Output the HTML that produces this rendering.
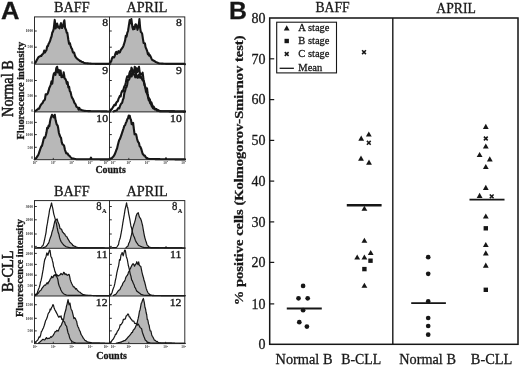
<!DOCTYPE html>
<html><head><meta charset="utf-8"><title>Figure</title>
<style>html,body{margin:0;padding:0;background:#fff;}body{width:520px;height:366px;overflow:hidden;}svg{display:block;}text{font-family:"Liberation Serif",serif;fill:#161616;stroke:#161616;stroke-width:0.28px;}.sans{font-family:"Liberation Sans",sans-serif;font-weight:bold;}.b{font-weight:bold;}</style>
</head><body>
<svg width="520" height="366" viewBox="0 0 520 366">
<defs><filter id="soft" x="0" y="0" width="520" height="366" filterUnits="userSpaceOnUse"><feGaussianBlur stdDeviation="0.35"/></filter></defs>
<rect x="0" y="0" width="520" height="366" fill="#ffffff"/>
<g filter="url(#soft)">
<g id="histTop">
<polygon points="34.73,64.2 34.73,63.16 35.46,61.91 36.19,61.17 36.92,59.69 37.65,58.6 38.39,57.19 39.12,56.8 39.85,56.42 40.58,55.86 41.31,55.88 42.04,54.61 42.77,53.97 43.5,53.26 44.23,50.61 44.96,52.5 45.69,51.07 46.42,50.18 47.15,46.36 47.88,46.28 48.62,43.75 49.35,42.44 50.08,40.92 50.81,38.22 51.54,36.49 52.27,32.63 53.0,31.37 53.73,28.89 54.75,19.93 55.63,28.38 56.36,25.94 57.09,23.6 58.12,27.41 58.85,26.9 59.58,28.36 60.31,25.44 61.04,23.16 62.06,28.04 62.64,26.68 63.23,26.42 63.81,22.19 64.4,20.24 65.13,28.03 66.15,30.26 66.73,32.67 67.32,32.81 68.35,39.76 69.08,43.8 69.81,43.1 70.54,45.62 71.27,47.84 72.0,48.81 72.73,51.8 73.46,52.76 74.19,52.66 74.92,55.6 75.65,56.85 76.39,58.03 77.12,58.69 77.85,59.26 78.58,59.83 79.31,60.19 80.04,61.27 80.77,61.07 81.5,61.62 82.23,62.06 82.96,62.11 83.69,62.72 84.42,62.94 85.15,63.16 85.88,63.22 86.61,63.28 87.34,63.34 88.07,63.4 88.81,63.46 89.54,63.52 90.27,63.58 91.0,63.64 91.73,63.7 92.46,63.76 93.22,63.78 93.99,63.8 94.75,63.82 95.51,63.84 96.27,63.86 97.04,63.87 97.8,63.89 98.56,63.9 99.32,63.9 100.09,63.9 100.85,63.9 101.61,63.9 102.37,63.9 103.14,63.9 103.9,63.9 104.66,63.9 105.42,63.9 106.19,63.9 106.95,63.9 107.71,63.9 108.47,63.9 109.24,63.9 110.0,64.2 110.0,64.2" fill="#b8b8b8" stroke="none"/>
<polyline points="34.73,63.16 35.46,61.91 36.19,61.17 36.92,59.69 37.65,58.6 38.39,57.19 39.12,56.8 39.85,56.42 40.58,55.86 41.31,55.88 42.04,54.61 42.77,53.97 43.5,53.26 44.23,50.61 44.96,52.5 45.69,51.07 46.42,50.18 47.15,46.36 47.88,46.28 48.62,43.75 49.35,42.44 50.08,40.92 50.81,38.22 51.54,36.49 52.27,32.63 53.0,31.37 53.73,28.89 54.75,19.93 55.63,28.38 56.36,25.94 57.09,23.6 58.12,27.41 58.85,26.9 59.58,28.36 60.31,25.44 61.04,23.16 62.06,28.04 62.64,26.68 63.23,26.42 63.81,22.19 64.4,20.24 65.13,28.03 66.15,30.26 66.73,32.67 67.32,32.81 68.35,39.76 69.08,43.8 69.81,43.1 70.54,45.62 71.27,47.84 72.0,48.81 72.73,51.8 73.46,52.76 74.19,52.66 74.92,55.6 75.65,56.85 76.39,58.03 77.12,58.69 77.85,59.26 78.58,59.83 79.31,60.19 80.04,61.27 80.77,61.07 81.5,61.62 82.23,62.06 82.96,62.11 83.69,62.72 84.42,62.94 85.15,63.16 85.88,63.22 86.61,63.28 87.34,63.34 88.07,63.4 88.81,63.46 89.54,63.52 90.27,63.58 91.0,63.64 91.73,63.7 92.46,63.76 93.22,63.78 93.99,63.8 94.75,63.82 95.51,63.84 96.27,63.86 97.04,63.87 97.8,63.89 98.56,63.9 99.32,63.9 100.09,63.9 100.85,63.9 101.61,63.9 102.37,63.9 103.14,63.9 103.9,63.9 104.66,63.9 105.42,63.9 106.19,63.9 106.95,63.9 107.71,63.9 108.47,63.9 109.24,63.9 110.0,64.2" fill="none" stroke="#161616" stroke-width="2.1" stroke-linejoin="round" stroke-linecap="round"/>
<polygon points="109.73,64.2 109.73,63.16 110.46,61.53 111.19,61.15 111.92,58.45 112.65,57.0 113.38,57.35 114.12,57.45 114.85,55.51 115.58,52.99 116.31,51.8 117.04,53.98 117.77,52.79 118.5,51.18 119.23,52.64 119.96,52.06 120.69,50.18 121.42,49.16 122.15,48.17 122.88,47.21 123.61,45.37 124.35,42.99 125.08,40.54 125.81,35.77 126.54,36.63 127.27,32.96 128.0,31.01 128.73,26.43 129.75,19.95 130.63,23.32 131.36,19.06 132.38,26.99 133.12,29.34 133.85,26.91 134.58,29.0 135.31,24.58 135.89,24.25 136.48,25.14 137.5,29.81 138.08,27.34 138.67,25.76 139.4,19.06 140.13,27.56 140.79,31.91 141.45,32.33 142.18,33.86 142.91,38.83 143.64,42.97 144.37,43.2 144.95,43.49 145.54,47.07 146.41,49.19 147.29,51.46 147.92,54.25 148.56,53.08 149.19,55.75 149.92,55.22 150.66,56.66 151.39,58.45 152.12,59.78 152.85,60.29 153.58,60.57 154.31,61.01 155.04,61.46 155.77,62.09 156.5,62.24 157.23,62.67 157.96,62.87 158.69,63.16 159.42,63.46 160.15,63.5 160.88,63.55 161.61,63.59 162.35,63.63 163.08,63.67 163.81,63.72 164.54,63.76 165.27,63.8 166.0,63.83 166.73,63.87 167.46,63.9 168.2,63.9 168.93,63.9 169.66,63.9 170.39,63.9 171.16,63.9 171.93,63.9 172.7,63.9 173.47,63.9 174.23,63.9 175.0,63.9 175.77,63.9 176.54,63.9 177.31,63.9 178.08,63.9 178.85,63.9 179.62,63.9 180.39,63.9 181.16,63.9 181.92,63.9 182.69,63.9 183.46,63.9 184.23,63.9 185.0,64.2 185.0,64.2" fill="#b8b8b8" stroke="none"/>
<polyline points="109.73,63.16 110.46,61.53 111.19,61.15 111.92,58.45 112.65,57.0 113.38,57.35 114.12,57.45 114.85,55.51 115.58,52.99 116.31,51.8 117.04,53.98 117.77,52.79 118.5,51.18 119.23,52.64 119.96,52.06 120.69,50.18 121.42,49.16 122.15,48.17 122.88,47.21 123.61,45.37 124.35,42.99 125.08,40.54 125.81,35.77 126.54,36.63 127.27,32.96 128.0,31.01 128.73,26.43 129.75,19.95 130.63,23.32 131.36,19.06 132.38,26.99 133.12,29.34 133.85,26.91 134.58,29.0 135.31,24.58 135.89,24.25 136.48,25.14 137.5,29.81 138.08,27.34 138.67,25.76 139.4,19.06 140.13,27.56 140.79,31.91 141.45,32.33 142.18,33.86 142.91,38.83 143.64,42.97 144.37,43.2 144.95,43.49 145.54,47.07 146.41,49.19 147.29,51.46 147.92,54.25 148.56,53.08 149.19,55.75 149.92,55.22 150.66,56.66 151.39,58.45 152.12,59.78 152.85,60.29 153.58,60.57 154.31,61.01 155.04,61.46 155.77,62.09 156.5,62.24 157.23,62.67 157.96,62.87 158.69,63.16 159.42,63.46 160.15,63.5 160.88,63.55 161.61,63.59 162.35,63.63 163.08,63.67 163.81,63.72 164.54,63.76 165.27,63.8 166.0,63.83 166.73,63.87 167.46,63.9 168.2,63.9 168.93,63.9 169.66,63.9 170.39,63.9 171.16,63.9 171.93,63.9 172.7,63.9 173.47,63.9 174.23,63.9 175.0,63.9 175.77,63.9 176.54,63.9 177.31,63.9 178.08,63.9 178.85,63.9 179.62,63.9 180.39,63.9 181.16,63.9 181.92,63.9 182.69,63.9 183.46,63.9 184.23,63.9 185.0,64.2" fill="none" stroke="#161616" stroke-width="2.1" stroke-linejoin="round" stroke-linecap="round"/>
<polygon points="34.73,111.9 34.73,111.46 35.46,110.87 36.19,110.5 36.92,109.69 37.65,109.35 38.39,108.54 39.12,108.75 39.85,106.83 40.58,105.31 41.31,104.23 42.04,103.41 42.77,102.66 43.5,100.76 44.23,100.27 44.96,99.44 45.69,94.21 46.42,94.33 47.15,94.33 47.88,92.9 48.62,90.66 49.35,87.69 50.08,86.51 50.81,84.35 51.54,81.35 52.27,83.63 53.0,77.51 53.73,74.04 54.46,72.77 55.48,74.89 56.22,68.37 57.09,66.75 57.82,72.47 58.85,69.95 59.72,74.95 60.6,70.58 61.48,77.21 62.5,75.67 63.09,77.06 63.67,72.32 64.69,78.5 65.42,78.89 66.15,80.63 66.89,83.84 67.62,82.2 68.35,87.41 69.08,86.72 69.81,91.12 70.54,91.96 71.27,95.17 72.0,97.71 72.88,98.84 73.75,100.93 74.38,102.83 75.02,103.43 75.65,104.5 76.38,106.68 77.12,107.23 77.85,107.41 78.58,109.65 79.31,107.96 80.04,109.59 80.77,109.64 81.5,109.98 82.23,110.44 82.96,110.48 83.69,110.63 84.42,110.87 85.15,110.91 85.88,110.95 86.61,110.99 87.35,111.04 88.08,111.08 88.81,111.12 89.54,111.16 90.3,111.17 91.06,111.18 91.81,111.19 92.57,111.2 93.33,111.22 94.09,111.23 94.84,111.24 95.6,111.25 96.36,111.26 97.12,111.27 97.88,111.28 98.63,111.29 99.39,111.3 100.15,111.32 100.91,111.33 101.66,111.34 102.42,111.35 103.18,111.36 103.94,111.37 104.7,111.38 105.45,111.39 106.21,111.4 106.97,111.42 107.73,111.43 108.48,111.44 109.24,111.45 110.0,111.46 110.0,111.9" fill="#b8b8b8" stroke="none"/>
<polyline points="34.73,111.46 35.46,110.87 36.19,110.5 36.92,109.69 37.65,109.35 38.39,108.54 39.12,108.75 39.85,106.83 40.58,105.31 41.31,104.23 42.04,103.41 42.77,102.66 43.5,100.76 44.23,100.27 44.96,99.44 45.69,94.21 46.42,94.33 47.15,94.33 47.88,92.9 48.62,90.66 49.35,87.69 50.08,86.51 50.81,84.35 51.54,81.35 52.27,83.63 53.0,77.51 53.73,74.04 54.46,72.77 55.48,74.89 56.22,68.37 57.09,66.75 57.82,72.47 58.85,69.95 59.72,74.95 60.6,70.58 61.48,77.21 62.5,75.67 63.09,77.06 63.67,72.32 64.69,78.5 65.42,78.89 66.15,80.63 66.89,83.84 67.62,82.2 68.35,87.41 69.08,86.72 69.81,91.12 70.54,91.96 71.27,95.17 72.0,97.71 72.88,98.84 73.75,100.93 74.38,102.83 75.02,103.43 75.65,104.5 76.38,106.68 77.12,107.23 77.85,107.41 78.58,109.65 79.31,107.96 80.04,109.59 80.77,109.64 81.5,109.98 82.23,110.44 82.96,110.48 83.69,110.63 84.42,110.87 85.15,110.91 85.88,110.95 86.61,110.99 87.35,111.04 88.08,111.08 88.81,111.12 89.54,111.16 90.3,111.17 91.06,111.18 91.81,111.19 92.57,111.2 93.33,111.22 94.09,111.23 94.84,111.24 95.6,111.25 96.36,111.26 97.12,111.27 97.88,111.28 98.63,111.29 99.39,111.3 100.15,111.32 100.91,111.33 101.66,111.34 102.42,111.35 103.18,111.36 103.94,111.37 104.7,111.38 105.45,111.39 106.21,111.4 106.97,111.42 107.73,111.43 108.48,111.44 109.24,111.45 110.0,111.46" fill="none" stroke="#161616" stroke-width="2.1" stroke-linejoin="round" stroke-linecap="round"/>
<polygon points="113.38,111.9 113.38,111.46 114.11,111.2 114.84,110.94 115.58,110.69 116.31,110.43 117.04,110.15 117.77,108.59 118.5,107.97 119.23,108.36 119.96,106.09 120.69,104.47 121.42,103.29 122.15,102.8 122.88,99.69 123.61,98.16 124.35,93.0 125.08,90.9 125.81,87.66 126.54,86.92 127.27,84.18 128.0,79.46 128.73,79.82 129.46,78.72 130.19,75.07 130.92,72.94 131.65,76.43 132.38,73.07 133.11,72.94 133.85,74.67 134.58,74.62 135.31,77.36 136.04,73.05 136.77,76.03 137.5,77.71 138.23,77.46 138.96,74.48 139.59,73.9 140.23,77.72 140.86,76.61 141.59,77.85 142.32,79.72 143.06,80.51 143.79,81.68 144.52,85.15 145.25,87.24 145.98,91.67 146.71,92.91 147.44,94.57 148.17,97.9 148.85,100.35 149.54,101.12 150.22,103.1 150.95,103.84 151.68,105.98 152.41,106.87 153.07,108.23 153.72,107.52 154.38,109.13 155.04,109.03 155.77,109.2 156.5,109.16 157.23,110.68 157.96,110.57 158.69,110.86 159.42,111.16 160.17,111.17 160.92,111.19 161.68,111.2 162.43,111.21 163.18,111.23 163.93,111.24 164.69,111.25 165.44,111.27 166.19,111.28 166.94,111.29 167.7,111.31 168.45,111.32 169.2,111.33 169.95,111.35 170.71,111.36 171.46,111.37 172.21,111.38 172.96,111.4 173.71,111.41 174.47,111.42 175.22,111.44 175.97,111.45 176.72,111.46 177.48,111.48 178.23,111.49 178.98,111.5 179.73,111.52 180.49,111.53 181.24,111.54 181.99,111.56 182.74,111.57 183.5,111.58 184.25,111.6 185.0,111.61 185.0,111.9" fill="#b8b8b8" stroke="none"/>
<polyline points="113.38,111.46 114.11,111.2 114.84,110.94 115.58,110.69 116.31,110.43 117.04,110.15 117.77,108.59 118.5,107.97 119.23,108.36 119.96,106.09 120.69,104.47 121.42,103.29 122.15,102.8 122.88,99.69 123.61,98.16 124.35,93.0 125.08,90.9 125.81,87.66 126.54,86.92 127.27,84.18 128.0,79.46 128.73,79.82 129.46,78.72 130.19,75.07 130.92,72.94 131.65,76.43 132.38,73.07 133.11,72.94 133.85,74.67 134.58,74.62 135.31,77.36 136.04,73.05 136.77,76.03 137.5,77.71 138.23,77.46 138.96,74.48 139.59,73.9 140.23,77.72 140.86,76.61 141.59,77.85 142.32,79.72 143.06,80.51 143.79,81.68 144.52,85.15 145.25,87.24 145.98,91.67 146.71,92.91 147.44,94.57 148.17,97.9 148.85,100.35 149.54,101.12 150.22,103.1 150.95,103.84 151.68,105.98 152.41,106.87 153.07,108.23 153.72,107.52 154.38,109.13 155.04,109.03 155.77,109.2 156.5,109.16 157.23,110.68 157.96,110.57 158.69,110.86 159.42,111.16 160.17,111.17 160.92,111.19 161.68,111.2 162.43,111.21 163.18,111.23 163.93,111.24 164.69,111.25 165.44,111.27 166.19,111.28 166.94,111.29 167.7,111.31 168.45,111.32 169.2,111.33 169.95,111.35 170.71,111.36 171.46,111.37 172.21,111.38 172.96,111.4 173.71,111.41 174.47,111.42 175.22,111.44 175.97,111.45 176.72,111.46 177.48,111.48 178.23,111.49 178.98,111.5 179.73,111.52 180.49,111.53 181.24,111.54 181.99,111.56 182.74,111.57 183.5,111.58 184.25,111.6 185.0,111.61" fill="none" stroke="#161616" stroke-width="2.1" stroke-linejoin="round" stroke-linecap="round"/>
<polyline points="109.73,111.46 110.46,110.62 111.19,109.25 111.92,108.95 112.65,107.73 113.38,106.72 114.12,105.19 114.85,104.61 115.58,105.1 116.31,102.6 117.04,101.78 117.77,101.37 118.5,98.91 119.23,97.33 119.96,95.77 120.69,96.28 121.42,92.63 122.15,90.96 122.89,91.45 123.62,88.78 124.35,86.36 125.08,85.65 125.81,82.53 126.54,78.72 127.27,76.29 128.0,76.81 128.73,77.09 129.46,73.16 130.19,71.15 130.92,71.53 131.5,67.68 132.09,69.07 133.12,73.45 134.14,72.39 134.72,66.75 135.31,67.21 136.19,72.36 136.84,68.43 137.5,71.92 138.23,68.77 138.96,66.75 139.69,72.18 140.42,74.12 141.15,73.98 141.88,74.67 142.62,72.68 143.49,79.2 144.15,82.22 144.81,85.47 145.54,87.84 146.27,89.32 147.0,88.43 147.73,93.94 148.46,97.62 149.19,98.51 149.92,99.63 150.66,103.46 151.39,102.43 152.12,104.67 152.85,107.35 153.58,106.49 154.31,107.91 155.04,109.3 155.77,108.89 156.5,109.79 157.23,110.36 157.96,109.93 158.69,110.57 159.42,110.87 160.15,111.16 160.9,111.17 161.66,111.19 162.41,111.2 163.16,111.21 163.92,111.23 164.67,111.24 165.42,111.26 166.17,111.27 166.93,111.28 167.68,111.3 168.43,111.31 169.19,111.32 169.94,111.34 170.69,111.35 171.45,111.36 172.2,111.38 172.95,111.39 173.7,111.41 174.46,111.42 175.21,111.43 175.96,111.45 176.72,111.46 177.47,111.47 178.22,111.49 178.98,111.5 179.73,111.51 180.48,111.53 181.23,111.54 181.99,111.56 182.74,111.57 183.49,111.58 184.25,111.6 185.0,111.61" fill="none" stroke="#161616" stroke-width="2.1" stroke-linejoin="round" stroke-linecap="round"/>
<polygon points="34.73,159.7 34.73,159.26 35.46,158.75 36.19,158.23 36.92,156.96 37.65,155.96 38.38,154.78 39.11,152.58 39.85,150.47 40.58,148.29 41.31,146.35 42.04,145.81 42.77,142.87 43.5,139.5 44.23,137.26 44.96,137.77 45.69,135.75 46.42,132.82 47.15,127.9 47.88,128.47 48.62,125.55 49.35,126.07 50.08,121.13 50.66,118.48 51.25,116.81 51.98,114.74 52.71,116.06 53.73,117.39 54.75,114.74 55.63,120.35 56.65,124.33 57.68,125.71 58.27,128.52 58.85,132.73 59.58,135.02 60.31,136.72 61.04,137.83 61.77,142.44 62.5,144.45 63.23,144.47 64.11,145.8 64.99,150.08 65.62,151.55 66.26,153.4 66.89,153.35 67.62,153.46 68.35,155.22 69.08,155.53 69.81,156.18 70.54,157.1 71.27,157.9 72.0,158.23 72.73,158.4 73.46,158.57 74.19,158.75 74.93,158.92 75.66,159.09 76.39,159.26 77.12,159.26 77.85,159.26 78.58,159.26 79.31,159.26 80.04,159.26 80.77,159.26 81.5,159.26 82.23,159.26 82.96,159.26 83.7,159.26 84.43,159.26 85.16,159.26 85.89,159.26 86.62,159.26 87.35,159.26 88.08,159.26 88.81,159.26 89.54,159.26 90.27,159.26 91.0,157.67 91.73,159.26 92.49,159.27 93.25,159.27 94.01,159.28 94.78,159.28 95.54,159.29 96.3,159.3 97.06,159.3 97.82,159.31 98.58,159.32 99.34,159.32 100.1,159.33 100.87,159.33 101.63,159.34 102.39,159.35 103.15,159.35 103.91,159.36 104.67,159.37 105.43,159.37 106.19,159.38 106.95,159.38 107.72,159.39 108.48,159.4 109.24,159.4 110.0,159.41 110.0,159.7" fill="#b8b8b8" stroke="none"/>
<polyline points="34.73,159.26 35.46,158.75 36.19,158.23 36.92,156.96 37.65,155.96 38.38,154.78 39.11,152.58 39.85,150.47 40.58,148.29 41.31,146.35 42.04,145.81 42.77,142.87 43.5,139.5 44.23,137.26 44.96,137.77 45.69,135.75 46.42,132.82 47.15,127.9 47.88,128.47 48.62,125.55 49.35,126.07 50.08,121.13 50.66,118.48 51.25,116.81 51.98,114.74 52.71,116.06 53.73,117.39 54.75,114.74 55.63,120.35 56.65,124.33 57.68,125.71 58.27,128.52 58.85,132.73 59.58,135.02 60.31,136.72 61.04,137.83 61.77,142.44 62.5,144.45 63.23,144.47 64.11,145.8 64.99,150.08 65.62,151.55 66.26,153.4 66.89,153.35 67.62,153.46 68.35,155.22 69.08,155.53 69.81,156.18 70.54,157.1 71.27,157.9 72.0,158.23 72.73,158.4 73.46,158.57 74.19,158.75 74.93,158.92 75.66,159.09 76.39,159.26 77.12,159.26 77.85,159.26 78.58,159.26 79.31,159.26 80.04,159.26 80.77,159.26 81.5,159.26 82.23,159.26 82.96,159.26 83.7,159.26 84.43,159.26 85.16,159.26 85.89,159.26 86.62,159.26 87.35,159.26 88.08,159.26 88.81,159.26 89.54,159.26 90.27,159.26 91.0,157.67 91.73,159.26 92.49,159.27 93.25,159.27 94.01,159.28 94.78,159.28 95.54,159.29 96.3,159.3 97.06,159.3 97.82,159.31 98.58,159.32 99.34,159.32 100.1,159.33 100.87,159.33 101.63,159.34 102.39,159.35 103.15,159.35 103.91,159.36 104.67,159.37 105.43,159.37 106.19,159.38 106.95,159.38 107.72,159.39 108.48,159.4 109.24,159.4 110.0,159.41" fill="none" stroke="#161616" stroke-width="2.1" stroke-linejoin="round" stroke-linecap="round"/>
<polygon points="109.73,159.7 109.73,158.97 110.46,158.72 111.19,158.48 111.92,158.23 112.65,157.2 113.39,156.53 114.12,155.39 114.85,154.06 115.58,152.05 116.31,150.04 117.04,148.53 117.77,145.32 118.5,142.41 119.23,140.05 119.96,138.91 120.69,136.89 121.42,134.99 122.15,132.55 122.88,130.46 123.61,128.29 124.35,125.81 125.08,125.23 125.81,123.04 126.54,121.62 127.27,119.2 128.0,118.38 128.73,115.47 129.75,115.66 130.33,118.72 130.92,119.37 131.65,123.99 132.38,124.45 133.12,122.93 133.85,128.93 134.58,134.32 135.31,133.79 136.19,134.61 137.06,138.73 137.69,141.06 138.33,142.23 138.96,142.91 139.69,146.38 140.42,146.8 141.15,148.67 141.89,151.1 142.62,153.7 143.35,154.54 144.08,155.56 144.81,155.52 145.54,156.89 146.27,157.91 147.0,157.97 147.73,158.38 148.46,158.68 149.19,158.97 149.96,158.98 150.72,159.0 151.49,159.01 152.25,159.03 153.02,159.04 153.78,159.05 154.55,159.07 155.32,159.08 156.08,159.09 156.85,159.11 157.61,159.12 158.38,159.14 159.14,159.15 159.91,159.16 160.68,159.18 161.44,159.19 162.21,159.2 162.97,159.22 163.74,159.23 164.5,159.25 165.27,159.26 166.0,158.25 166.73,159.26 167.49,159.27 168.25,159.27 169.01,159.28 169.77,159.28 170.54,159.29 171.3,159.3 172.06,159.3 172.82,159.31 173.58,159.32 174.34,159.32 175.1,159.33 175.87,159.33 176.63,159.34 177.39,159.35 178.15,159.35 178.91,159.36 179.67,159.37 180.43,159.37 181.19,159.38 181.95,159.38 182.72,159.39 183.48,159.4 184.24,159.4 185.0,159.41 185.0,159.7" fill="#b8b8b8" stroke="none"/>
<polyline points="109.73,158.97 110.46,158.72 111.19,158.48 111.92,158.23 112.65,157.2 113.39,156.53 114.12,155.39 114.85,154.06 115.58,152.05 116.31,150.04 117.04,148.53 117.77,145.32 118.5,142.41 119.23,140.05 119.96,138.91 120.69,136.89 121.42,134.99 122.15,132.55 122.88,130.46 123.61,128.29 124.35,125.81 125.08,125.23 125.81,123.04 126.54,121.62 127.27,119.2 128.0,118.38 128.73,115.47 129.75,115.66 130.33,118.72 130.92,119.37 131.65,123.99 132.38,124.45 133.12,122.93 133.85,128.93 134.58,134.32 135.31,133.79 136.19,134.61 137.06,138.73 137.69,141.06 138.33,142.23 138.96,142.91 139.69,146.38 140.42,146.8 141.15,148.67 141.89,151.1 142.62,153.7 143.35,154.54 144.08,155.56 144.81,155.52 145.54,156.89 146.27,157.91 147.0,157.97 147.73,158.38 148.46,158.68 149.19,158.97 149.96,158.98 150.72,159.0 151.49,159.01 152.25,159.03 153.02,159.04 153.78,159.05 154.55,159.07 155.32,159.08 156.08,159.09 156.85,159.11 157.61,159.12 158.38,159.14 159.14,159.15 159.91,159.16 160.68,159.18 161.44,159.19 162.21,159.2 162.97,159.22 163.74,159.23 164.5,159.25 165.27,159.26 166.0,158.25 166.73,159.26 167.49,159.27 168.25,159.27 169.01,159.28 169.77,159.28 170.54,159.29 171.3,159.3 172.06,159.3 172.82,159.31 173.58,159.32 174.34,159.32 175.1,159.33 175.87,159.33 176.63,159.34 177.39,159.35 178.15,159.35 178.91,159.36 179.67,159.37 180.43,159.37 181.19,159.38 181.95,159.38 182.72,159.39 183.48,159.4 184.24,159.4 185.0,159.41" fill="none" stroke="#161616" stroke-width="2.1" stroke-linejoin="round" stroke-linecap="round"/>
</g>
<g id="histBot">
<polygon points="42.77,248.3 42.77,247.85 43.5,247.59 44.23,247.33 44.96,247.07 45.69,246.81 46.42,245.98 47.15,245.12 47.88,243.81 48.51,243.41 49.15,241.44 49.78,239.34 50.52,237.2 51.25,235.57 51.98,232.09 52.71,229.98 53.44,227.52 54.17,223.78 54.9,220.9 55.63,220.13 56.36,219.65 57.09,219.0 58.12,222.56 59.14,224.53 60.02,228.5 60.75,229.02 61.48,229.04 62.5,231.97 63.23,232.53 63.96,233.62 64.69,233.89 65.42,235.52 66.16,236.41 66.89,236.82 67.62,238.41 68.35,239.74 68.98,240.56 69.62,241.87 70.25,242.45 70.93,243.08 71.61,243.76 72.29,244.39 72.95,245.59 73.61,245.62 74.26,246.21 74.92,246.29 75.65,246.63 76.38,246.97 77.12,247.26 77.85,247.56 78.58,247.61 79.31,247.66 80.04,247.7 80.77,247.75 81.5,247.8 82.23,247.85 82.98,247.85 83.73,247.86 84.48,247.86 85.23,247.87 85.98,247.87 86.73,247.87 87.48,247.88 88.23,247.88 88.98,247.89 89.74,247.89 90.49,247.89 91.24,247.9 91.99,247.9 92.74,247.91 93.49,247.91 94.24,247.91 94.99,247.92 95.74,247.92 96.49,247.93 97.24,247.93 97.99,247.94 98.74,247.94 99.49,247.94 100.24,247.95 100.99,247.95 101.74,247.96 102.49,247.96 103.25,247.96 104.0,247.97 104.75,247.97 105.5,247.98 106.25,247.98 107.0,247.98 107.75,247.99 108.5,247.99 109.25,248.0 110.0,248.0 110.0,248.3" fill="#b8b8b8" stroke="none"/>
<polyline points="42.77,247.85 43.5,247.59 44.23,247.33 44.96,247.07 45.69,246.81 46.42,245.98 47.15,245.12 47.88,243.81 48.51,243.41 49.15,241.44 49.78,239.34 50.52,237.2 51.25,235.57 51.98,232.09 52.71,229.98 53.44,227.52 54.17,223.78 54.9,220.9 55.63,220.13 56.36,219.65 57.09,219.0 58.12,222.56 59.14,224.53 60.02,228.5 60.75,229.02 61.48,229.04 62.5,231.97 63.23,232.53 63.96,233.62 64.69,233.89 65.42,235.52 66.16,236.41 66.89,236.82 67.62,238.41 68.35,239.74 68.98,240.56 69.62,241.87 70.25,242.45 70.93,243.08 71.61,243.76 72.29,244.39 72.95,245.59 73.61,245.62 74.26,246.21 74.92,246.29 75.65,246.63 76.38,246.97 77.12,247.26 77.85,247.56 78.58,247.61 79.31,247.66 80.04,247.7 80.77,247.75 81.5,247.8 82.23,247.85 82.98,247.85 83.73,247.86 84.48,247.86 85.23,247.87 85.98,247.87 86.73,247.87 87.48,247.88 88.23,247.88 88.98,247.89 89.74,247.89 90.49,247.89 91.24,247.9 91.99,247.9 92.74,247.91 93.49,247.91 94.24,247.91 94.99,247.92 95.74,247.92 96.49,247.93 97.24,247.93 97.99,247.94 98.74,247.94 99.49,247.94 100.24,247.95 100.99,247.95 101.74,247.96 102.49,247.96 103.25,247.96 104.0,247.97 104.75,247.97 105.5,247.98 106.25,247.98 107.0,247.98 107.75,247.99 108.5,247.99 109.25,248.0 110.0,248.0" fill="none" stroke="#161616" stroke-width="1.2" stroke-linejoin="round" stroke-linecap="round"/>
<polyline points="34.73,247.85 35.46,247.82 36.19,247.79 36.92,247.75 37.65,247.72 38.39,247.69 39.12,247.66 39.85,247.62 40.58,247.59 41.31,247.56 42.19,246.02 43.06,245.42 43.79,243.11 44.52,239.76 45.25,236.38 45.98,232.87 46.72,226.9 47.45,223.17 48.18,218.35 48.91,214.61 49.64,209.69 50.37,207.44 50.95,205.33 51.54,202.97 52.12,205.84 52.71,208.08 53.73,213.85 54.75,217.34 55.34,219.6 55.92,221.92 56.51,224.0 57.09,227.46 57.67,230.1 58.26,232.83 58.92,234.33 59.58,237.63 60.31,239.74 61.04,241.57 61.77,242.47 62.5,243.57 63.23,244.48 63.96,245.35 64.69,245.79 65.42,246.23 66.15,246.81 66.88,246.98 67.61,247.16 68.34,247.33 69.08,247.5 69.81,247.68 70.54,247.85 71.28,247.85 72.03,247.86 72.77,247.86 73.52,247.86 74.26,247.86 75.01,247.87 75.75,247.87 76.5,247.87 77.24,247.88 77.99,247.88 78.73,247.88 79.47,247.88 80.22,247.89 80.96,247.89 81.71,247.89 82.45,247.9 83.2,247.9 83.94,247.9 84.69,247.9 85.43,247.91 86.18,247.91 86.92,247.91 87.66,247.92 88.41,247.92 89.15,247.92 89.9,247.92 90.64,247.93 91.39,247.93 92.13,247.93 92.88,247.93 93.62,247.94 94.36,247.94 95.11,247.94 95.85,247.95 96.6,247.95 97.34,247.95 98.09,247.95 98.83,247.96 99.58,247.96 100.32,247.96 101.07,247.97 101.81,247.97 102.55,247.97 103.3,247.97 104.04,247.98 104.79,247.98 105.53,247.98 106.28,247.99 107.02,247.99 107.77,247.99 108.51,247.99 109.26,248.0 110.0,248.0" fill="none" stroke="#161616" stroke-width="1.2" stroke-linejoin="round" stroke-linecap="round"/>
<polygon points="125.81,248.3 125.81,247.85 126.54,247.26 127.27,246.52 128.0,246.05 128.73,243.28 129.46,242.2 130.19,239.77 130.92,236.81 131.5,234.68 132.09,231.99 132.68,228.33 133.26,226.67 133.92,224.26 134.58,222.45 135.31,219.88 136.04,216.34 137.06,213.78 137.64,213.23 138.23,212.6 139.25,216.63 139.83,217.74 140.42,218.31 141.45,221.07 142.03,223.47 142.62,225.77 143.49,230.9 144.07,234.11 144.66,237.04 145.25,239.06 145.83,240.97 146.42,242.56 147.0,244.88 147.88,245.61 148.75,246.81 149.41,247.07 150.07,247.33 150.73,247.59 151.39,247.85 152.12,247.85 152.85,247.85 153.58,247.85 154.31,247.85 155.04,247.85 155.77,247.85 156.5,247.85 157.23,247.85 157.96,247.85 158.7,247.85 159.43,247.85 160.16,247.85 160.89,247.85 161.62,247.85 162.35,247.85 163.08,247.85 163.81,247.85 164.54,247.85 165.27,247.85 166.0,246.81 166.73,247.85 167.49,247.86 168.25,247.86 169.01,247.87 169.77,247.88 170.54,247.88 171.3,247.89 172.06,247.89 172.82,247.9 173.58,247.91 174.34,247.91 175.1,247.92 175.87,247.93 176.63,247.93 177.39,247.94 178.15,247.94 178.91,247.95 179.67,247.96 180.43,247.96 181.19,247.97 181.95,247.97 182.72,247.98 183.48,247.99 184.24,247.99 185.0,248.0 185.0,248.3" fill="#b8b8b8" stroke="none"/>
<polyline points="125.81,247.85 126.54,247.26 127.27,246.52 128.0,246.05 128.73,243.28 129.46,242.2 130.19,239.77 130.92,236.81 131.5,234.68 132.09,231.99 132.68,228.33 133.26,226.67 133.92,224.26 134.58,222.45 135.31,219.88 136.04,216.34 137.06,213.78 137.64,213.23 138.23,212.6 139.25,216.63 139.83,217.74 140.42,218.31 141.45,221.07 142.03,223.47 142.62,225.77 143.49,230.9 144.07,234.11 144.66,237.04 145.25,239.06 145.83,240.97 146.42,242.56 147.0,244.88 147.88,245.61 148.75,246.81 149.41,247.07 150.07,247.33 150.73,247.59 151.39,247.85 152.12,247.85 152.85,247.85 153.58,247.85 154.31,247.85 155.04,247.85 155.77,247.85 156.5,247.85 157.23,247.85 157.96,247.85 158.7,247.85 159.43,247.85 160.16,247.85 160.89,247.85 161.62,247.85 162.35,247.85 163.08,247.85 163.81,247.85 164.54,247.85 165.27,247.85 166.0,246.81 166.73,247.85 167.49,247.86 168.25,247.86 169.01,247.87 169.77,247.88 170.54,247.88 171.3,247.89 172.06,247.89 172.82,247.9 173.58,247.91 174.34,247.91 175.1,247.92 175.87,247.93 176.63,247.93 177.39,247.94 178.15,247.94 178.91,247.95 179.67,247.96 180.43,247.96 181.19,247.97 181.95,247.97 182.72,247.98 183.48,247.99 184.24,247.99 185.0,248.0" fill="none" stroke="#161616" stroke-width="1.2" stroke-linejoin="round" stroke-linecap="round"/>
<polyline points="109.73,247.85 110.46,247.82 111.19,247.79 111.92,247.75 112.65,247.72 113.39,247.69 114.12,247.66 114.85,247.62 115.58,247.59 116.31,247.56 117.04,246.81 117.77,245.61 118.5,244.73 119.13,241.1 119.77,239.25 120.4,237.21 121.28,232.36 122.15,227.49 122.89,222.57 123.62,218.31 124.35,214.15 125.08,209.32 125.81,206.51 126.54,202.9 127.12,206.14 127.71,207.71 128.73,213.85 129.75,218.95 130.33,222.51 130.92,225.95 131.5,227.69 132.09,230.48 132.82,233.84 133.55,235.68 134.43,237.46 135.31,240.18 136.04,241.63 136.77,242.89 137.5,243.73 138.23,245.06 138.96,245.61 139.69,245.74 140.42,246.4 141.15,246.51 141.88,246.85 142.62,247.08 143.35,247.32 144.08,247.56 144.82,247.57 145.57,247.58 146.31,247.58 147.06,247.59 147.8,247.6 148.54,247.61 149.29,247.62 150.03,247.62 150.78,247.63 151.52,247.64 152.26,247.65 153.01,247.66 153.75,247.66 154.5,247.67 155.24,247.68 155.98,247.69 156.73,247.7 157.47,247.7 158.22,247.71 158.96,247.72 159.7,247.73 160.45,247.74 161.19,247.74 161.94,247.75 162.68,247.76 163.42,247.77 164.17,247.78 164.91,247.78 165.66,247.79 166.4,247.8 167.14,247.81 167.89,247.82 168.63,247.82 169.38,247.83 170.12,247.84 170.86,247.85 171.61,247.86 172.35,247.86 173.1,247.87 173.84,247.88 174.58,247.89 175.33,247.9 176.07,247.9 176.82,247.91 177.56,247.92 178.3,247.93 179.05,247.94 179.79,247.94 180.54,247.95 181.28,247.96 182.02,247.97 182.77,247.98 183.51,247.98 184.26,247.99 185.0,248.0" fill="none" stroke="#161616" stroke-width="1.2" stroke-linejoin="round" stroke-linecap="round"/>
<polygon points="35.46,296.0 35.46,295.56 36.19,294.93 36.92,294.62 37.65,293.49 38.38,293.13 39.11,291.96 39.84,290.94 40.58,290.57 41.31,289.58 41.97,288.42 42.62,287.17 43.28,287.01 43.94,285.65 44.77,285.1 45.59,285.08 46.42,283.72 47.15,282.64 47.89,283.89 48.62,281.97 49.49,281.02 50.37,278.84 51.0,278.25 51.64,276.26 52.27,277.33 53.0,277.58 53.73,275.39 54.46,275.6 55.19,274.32 55.92,275.99 56.65,274.44 57.38,275.27 58.12,275.97 58.85,275.6 59.58,274.98 60.31,274.6 61.04,273.39 61.77,274.16 62.5,274.68 63.09,273.85 63.67,272.29 64.33,272.75 64.99,274.63 65.72,273.83 66.45,274.35 67.03,275.19 67.62,275.28 68.35,274.58 69.08,274.36 69.66,276.47 70.25,279.65 70.98,281.79 71.71,283.57 72.58,285.25 73.46,286.84 74.19,286.78 74.92,287.89 75.65,289.14 76.38,288.54 77.12,289.88 77.85,290.86 78.58,291.38 79.31,291.96 80.04,292.28 80.77,292.97 81.5,293.43 82.23,294.15 82.96,294.52 83.69,294.7 84.42,294.88 85.16,295.05 85.89,295.23 86.62,295.41 87.37,295.42 88.13,295.43 88.88,295.44 89.64,295.45 90.39,295.46 91.15,295.47 91.9,295.48 92.65,295.48 93.41,295.49 94.16,295.5 94.92,295.51 95.67,295.52 96.42,295.53 97.18,295.54 97.93,295.55 98.69,295.56 99.44,295.57 100.2,295.58 100.95,295.59 101.7,295.6 102.46,295.61 103.21,295.62 103.97,295.63 104.72,295.63 105.47,295.64 106.23,295.65 106.98,295.66 107.74,295.67 108.49,295.68 109.25,295.69 110.0,295.7 110.0,296.0" fill="#b8b8b8" stroke="none"/>
<polyline points="35.46,295.56 36.19,294.93 36.92,294.62 37.65,293.49 38.38,293.13 39.11,291.96 39.84,290.94 40.58,290.57 41.31,289.58 41.97,288.42 42.62,287.17 43.28,287.01 43.94,285.65 44.77,285.1 45.59,285.08 46.42,283.72 47.15,282.64 47.89,283.89 48.62,281.97 49.49,281.02 50.37,278.84 51.0,278.25 51.64,276.26 52.27,277.33 53.0,277.58 53.73,275.39 54.46,275.6 55.19,274.32 55.92,275.99 56.65,274.44 57.38,275.27 58.12,275.97 58.85,275.6 59.58,274.98 60.31,274.6 61.04,273.39 61.77,274.16 62.5,274.68 63.09,273.85 63.67,272.29 64.33,272.75 64.99,274.63 65.72,273.83 66.45,274.35 67.03,275.19 67.62,275.28 68.35,274.58 69.08,274.36 69.66,276.47 70.25,279.65 70.98,281.79 71.71,283.57 72.58,285.25 73.46,286.84 74.19,286.78 74.92,287.89 75.65,289.14 76.38,288.54 77.12,289.88 77.85,290.86 78.58,291.38 79.31,291.96 80.04,292.28 80.77,292.97 81.5,293.43 82.23,294.15 82.96,294.52 83.69,294.7 84.42,294.88 85.16,295.05 85.89,295.23 86.62,295.41 87.37,295.42 88.13,295.43 88.88,295.44 89.64,295.45 90.39,295.46 91.15,295.47 91.9,295.48 92.65,295.48 93.41,295.49 94.16,295.5 94.92,295.51 95.67,295.52 96.42,295.53 97.18,295.54 97.93,295.55 98.69,295.56 99.44,295.57 100.2,295.58 100.95,295.59 101.7,295.6 102.46,295.61 103.21,295.62 103.97,295.63 104.72,295.63 105.47,295.64 106.23,295.65 106.98,295.66 107.74,295.67 108.49,295.68 109.25,295.69 110.0,295.7" fill="none" stroke="#161616" stroke-width="1.2" stroke-linejoin="round" stroke-linecap="round"/>
<polyline points="34.73,295.56 35.46,294.97 36.19,293.96 36.92,293.69 37.65,291.81 38.39,289.41 39.12,287.68 39.75,285.76 40.39,282.55 41.02,280.66 41.75,277.36 42.48,273.21 43.21,269.13 43.94,264.21 44.67,259.88 45.4,258.33 46.13,256.24 46.86,252.93 47.88,255.34 48.91,252.03 49.49,250.02 50.08,250.51 50.81,256.19 51.83,258.11 52.41,260.7 53.0,262.71 53.59,266.8 54.17,268.05 54.9,271.3 55.63,272.89 56.36,275.31 57.09,277.54 57.82,279.31 58.55,283.8 59.28,286.16 60.02,287.54 60.9,290.04 61.77,291.55 62.5,292.55 63.23,293.35 63.96,293.94 64.69,294.33 65.42,294.67 66.16,294.96 66.89,295.26 67.65,295.27 68.4,295.28 69.16,295.28 69.92,295.29 70.67,295.3 71.43,295.31 72.18,295.31 72.94,295.32 73.7,295.33 74.45,295.34 75.21,295.34 75.97,295.35 76.72,295.36 77.48,295.37 78.23,295.38 78.99,295.38 79.75,295.39 80.5,295.4 81.26,295.41 82.02,295.41 82.77,295.42 83.53,295.43 84.29,295.44 85.04,295.45 85.8,295.45 86.55,295.46 87.31,295.47 88.07,295.48 88.82,295.48 89.58,295.49 90.34,295.5 91.09,295.51 91.85,295.51 92.6,295.52 93.36,295.53 94.12,295.54 94.87,295.55 95.63,295.55 96.39,295.56 97.14,295.57 97.9,295.58 98.66,295.58 99.41,295.59 100.17,295.6 100.92,295.61 101.68,295.62 102.44,295.62 103.19,295.63 103.95,295.64 104.71,295.65 105.46,295.65 106.22,295.66 106.97,295.67 107.73,295.68 108.49,295.68 109.24,295.69 110.0,295.7" fill="none" stroke="#161616" stroke-width="1.2" stroke-linejoin="round" stroke-linecap="round"/>
<polygon points="113.38,296.0 113.38,295.56 114.11,295.12 114.84,294.67 115.58,294.56 116.31,293.72 117.04,292.55 117.77,291.47 118.5,290.55 119.23,290.15 119.96,289.57 120.69,287.72 121.42,286.34 122.15,285.43 122.88,283.32 123.62,281.91 124.35,281.39 125.08,279.9 125.81,277.55 126.54,275.93 127.27,275.41 127.9,274.29 128.54,271.79 129.17,271.56 129.9,269.31 130.63,268.11 131.36,266.35 132.09,264.95 132.82,263.91 133.55,263.92 134.58,266.24 135.6,264.11 136.19,263.96 136.77,261.73 137.36,263.21 137.94,264.54 138.67,261.9 139.4,265.58 140.13,266.02 140.86,266.53 141.89,271.87 142.91,276.06 143.5,277.79 144.08,280.59 144.67,282.0 145.25,284.47 146.27,288.63 147.0,290.57 147.73,292.24 148.36,293.31 149.0,293.71 149.63,294.52 150.46,294.87 151.29,295.21 152.12,295.56 152.87,295.56 153.61,295.57 154.36,295.57 155.11,295.57 155.86,295.58 156.6,295.58 157.35,295.58 158.1,295.59 158.85,295.59 159.59,295.59 160.34,295.6 161.09,295.6 161.83,295.6 162.58,295.6 163.33,295.61 164.08,295.61 164.82,295.61 165.57,295.62 166.32,295.62 167.07,295.62 167.81,295.63 168.56,295.63 169.31,295.63 170.05,295.64 170.8,295.64 171.55,295.64 172.3,295.65 173.04,295.65 173.79,295.65 174.54,295.66 175.29,295.66 176.03,295.66 176.78,295.66 177.53,295.67 178.27,295.67 179.02,295.67 179.77,295.68 180.52,295.68 181.26,295.68 182.01,295.69 182.76,295.69 183.51,295.69 184.25,295.7 185.0,295.7 185.0,296.0" fill="#b8b8b8" stroke="none"/>
<polyline points="113.38,295.56 114.11,295.12 114.84,294.67 115.58,294.56 116.31,293.72 117.04,292.55 117.77,291.47 118.5,290.55 119.23,290.15 119.96,289.57 120.69,287.72 121.42,286.34 122.15,285.43 122.88,283.32 123.62,281.91 124.35,281.39 125.08,279.9 125.81,277.55 126.54,275.93 127.27,275.41 127.9,274.29 128.54,271.79 129.17,271.56 129.9,269.31 130.63,268.11 131.36,266.35 132.09,264.95 132.82,263.91 133.55,263.92 134.58,266.24 135.6,264.11 136.19,263.96 136.77,261.73 137.36,263.21 137.94,264.54 138.67,261.9 139.4,265.58 140.13,266.02 140.86,266.53 141.89,271.87 142.91,276.06 143.5,277.79 144.08,280.59 144.67,282.0 145.25,284.47 146.27,288.63 147.0,290.57 147.73,292.24 148.36,293.31 149.0,293.71 149.63,294.52 150.46,294.87 151.29,295.21 152.12,295.56 152.87,295.56 153.61,295.57 154.36,295.57 155.11,295.57 155.86,295.58 156.6,295.58 157.35,295.58 158.1,295.59 158.85,295.59 159.59,295.59 160.34,295.6 161.09,295.6 161.83,295.6 162.58,295.6 163.33,295.61 164.08,295.61 164.82,295.61 165.57,295.62 166.32,295.62 167.07,295.62 167.81,295.63 168.56,295.63 169.31,295.63 170.05,295.64 170.8,295.64 171.55,295.64 172.3,295.65 173.04,295.65 173.79,295.65 174.54,295.66 175.29,295.66 176.03,295.66 176.78,295.66 177.53,295.67 178.27,295.67 179.02,295.67 179.77,295.68 180.52,295.68 181.26,295.68 182.01,295.69 182.76,295.69 183.51,295.69 184.25,295.7 185.0,295.7" fill="none" stroke="#161616" stroke-width="1.2" stroke-linejoin="round" stroke-linecap="round"/>
<polyline points="109.73,295.56 110.46,294.72 111.19,293.74 111.92,293.11 112.65,290.23 113.39,288.3 114.12,286.4 114.75,283.96 115.39,280.38 116.02,277.63 116.89,272.58 117.77,268.79 118.64,265.84 119.52,259.54 120.25,260.09 120.98,255.1 121.56,253.92 122.15,252.51 123.18,255.82 124.2,251.87 124.78,250.02 125.37,250.5 126.25,256.46 127.27,259.34 128.29,265.26 128.88,267.39 129.46,270.24 130.19,273.86 130.92,276.17 131.65,279.82 132.38,280.91 133.26,283.22 134.14,284.91 134.77,287.31 135.41,287.94 136.04,289.51 136.77,291.21 137.5,291.32 138.23,292.28 138.96,292.71 139.69,293.19 140.42,293.81 141.15,294.52 141.88,294.7 142.61,294.88 143.35,295.05 144.08,295.23 144.81,295.41 145.55,295.42 146.3,295.42 147.04,295.43 147.79,295.43 148.53,295.44 149.28,295.44 150.02,295.45 150.76,295.45 151.51,295.46 152.25,295.46 153.0,295.47 153.74,295.47 154.49,295.48 155.23,295.49 155.97,295.49 156.72,295.5 157.46,295.5 158.21,295.51 158.95,295.51 159.7,295.52 160.44,295.52 161.18,295.53 161.93,295.53 162.67,295.54 163.42,295.54 164.16,295.55 164.91,295.56 165.65,295.56 166.39,295.57 167.14,295.57 167.88,295.58 168.63,295.58 169.37,295.59 170.11,295.59 170.86,295.6 171.6,295.6 172.35,295.61 173.09,295.61 173.84,295.62 174.58,295.62 175.32,295.63 176.07,295.64 176.81,295.64 177.56,295.65 178.3,295.65 179.05,295.66 179.79,295.66 180.53,295.67 181.28,295.67 182.02,295.68 182.77,295.68 183.51,295.69 184.26,295.69 185.0,295.7" fill="none" stroke="#161616" stroke-width="1.2" stroke-linejoin="round" stroke-linecap="round"/>
<polygon points="38.38,343.6 38.38,343.16 39.11,342.54 39.84,342.06 40.58,341.3 41.31,340.68 42.19,339.88 43.06,339.34 43.79,339.74 44.52,339.92 45.15,339.44 45.79,338.41 46.42,337.55 47.15,338.57 47.89,338.41 48.62,338.32 49.35,338.42 50.08,337.64 50.81,336.74 51.54,337.25 52.27,336.19 53.0,335.71 53.73,334.42 54.46,333.02 55.19,331.52 55.92,331.73 56.65,330.43 57.38,330.61 58.12,331.23 58.85,329.37 59.58,327.67 60.21,326.5 60.85,326.0 61.48,324.67 62.21,322.77 62.94,321.12 63.67,319.12 64.4,314.91 65.13,311.99 65.86,309.81 66.44,306.28 67.03,304.37 68.05,299.69 69.08,304.81 69.95,303.12 70.83,308.16 71.41,309.76 72.0,310.62 72.59,312.95 73.17,315.45 73.9,318.62 74.63,317.74 75.36,318.59 76.09,320.33 76.68,321.54 77.26,324.71 77.99,326.79 78.72,328.15 79.45,330.38 80.19,331.52 80.92,334.12 81.65,335.24 82.53,336.7 83.4,338.38 84.08,339.06 84.77,340.22 85.45,340.68 86.18,340.93 86.91,341.54 87.64,342.14 88.37,342.14 89.19,342.31 90.01,342.49 90.82,342.66 91.64,342.84 92.46,343.01 93.22,343.02 93.99,343.04 94.75,343.05 95.51,343.06 96.27,343.08 97.04,343.09 97.8,343.1 98.56,343.11 99.32,343.13 100.09,343.14 100.85,343.15 101.61,343.17 102.37,343.18 103.14,343.19 103.9,343.21 104.66,343.22 105.42,343.23 106.19,343.24 106.95,343.26 107.71,343.27 108.47,343.28 109.24,343.3 110.0,343.31 110.0,343.6" fill="#b8b8b8" stroke="none"/>
<polyline points="38.38,343.16 39.11,342.54 39.84,342.06 40.58,341.3 41.31,340.68 42.19,339.88 43.06,339.34 43.79,339.74 44.52,339.92 45.15,339.44 45.79,338.41 46.42,337.55 47.15,338.57 47.89,338.41 48.62,338.32 49.35,338.42 50.08,337.64 50.81,336.74 51.54,337.25 52.27,336.19 53.0,335.71 53.73,334.42 54.46,333.02 55.19,331.52 55.92,331.73 56.65,330.43 57.38,330.61 58.12,331.23 58.85,329.37 59.58,327.67 60.21,326.5 60.85,326.0 61.48,324.67 62.21,322.77 62.94,321.12 63.67,319.12 64.4,314.91 65.13,311.99 65.86,309.81 66.44,306.28 67.03,304.37 68.05,299.69 69.08,304.81 69.95,303.12 70.83,308.16 71.41,309.76 72.0,310.62 72.59,312.95 73.17,315.45 73.9,318.62 74.63,317.74 75.36,318.59 76.09,320.33 76.68,321.54 77.26,324.71 77.99,326.79 78.72,328.15 79.45,330.38 80.19,331.52 80.92,334.12 81.65,335.24 82.53,336.7 83.4,338.38 84.08,339.06 84.77,340.22 85.45,340.68 86.18,340.93 86.91,341.54 87.64,342.14 88.37,342.14 89.19,342.31 90.01,342.49 90.82,342.66 91.64,342.84 92.46,343.01 93.22,343.02 93.99,343.04 94.75,343.05 95.51,343.06 96.27,343.08 97.04,343.09 97.8,343.1 98.56,343.11 99.32,343.13 100.09,343.14 100.85,343.15 101.61,343.17 102.37,343.18 103.14,343.19 103.9,343.21 104.66,343.22 105.42,343.23 106.19,343.24 106.95,343.26 107.71,343.27 108.47,343.28 109.24,343.3 110.0,343.31" fill="none" stroke="#161616" stroke-width="1.2" stroke-linejoin="round" stroke-linecap="round"/>
<polyline points="34.73,342.87 35.46,342.14 36.19,341.41 36.92,340.78 37.65,340.1 38.38,338.76 39.11,336.83 39.85,337.25 40.58,335.26 41.31,331.75 42.04,330.88 42.77,329.06 43.5,327.67 44.23,325.54 44.96,323.02 45.69,320.3 46.42,319.28 47.15,317.6 48.03,314.05 48.91,312.45 49.54,311.84 50.18,309.0 50.81,309.81 51.54,307.64 52.27,306.44 53.0,304.59 53.59,305.71 54.17,308.29 54.9,309.87 55.63,311.12 56.51,312.86 57.38,314.59 58.11,316.12 58.85,317.3 59.58,316.22 60.31,316.87 61.04,315.83 61.77,319.34 62.5,319.07 63.23,320.63 63.96,321.8 64.59,321.8 65.23,324.42 65.86,325.28 66.59,326.24 67.32,329.76 68.06,332.93 68.79,334.43 69.52,337.36 70.25,339.24 70.93,340.19 71.61,340.99 72.29,341.82 73.13,341.98 73.97,342.36 74.81,342.68 75.65,343.01 76.4,343.02 77.14,343.02 77.89,343.03 78.64,343.04 79.38,343.04 80.13,343.05 80.88,343.06 81.62,343.06 82.37,343.07 83.12,343.08 83.86,343.08 84.61,343.09 85.36,343.09 86.1,343.1 86.85,343.11 87.6,343.11 88.34,343.12 89.09,343.13 89.84,343.13 90.58,343.14 91.33,343.15 92.08,343.15 92.83,343.16 93.57,343.17 94.32,343.17 95.07,343.18 95.81,343.19 96.56,343.19 97.31,343.2 98.05,343.21 98.8,343.21 99.55,343.22 100.29,343.23 101.04,343.23 101.79,343.24 102.53,343.24 103.28,343.25 104.03,343.26 104.77,343.26 105.52,343.27 106.27,343.28 107.01,343.28 107.76,343.29 108.51,343.3 109.25,343.3 110.0,343.31" fill="none" stroke="#161616" stroke-width="1.2" stroke-linejoin="round" stroke-linecap="round"/>
<polygon points="116.31,343.6 116.31,343.16 117.04,342.99 117.77,342.82 118.5,342.65 119.23,342.48 119.96,342.31 120.69,342.14 121.42,342.04 122.15,341.45 122.89,341.45 123.62,340.74 124.35,340.66 125.08,340.67 125.81,339.72 126.54,338.96 127.27,338.29 128.0,337.16 128.73,336.6 129.46,335.72 130.19,334.78 130.92,333.88 131.65,332.61 132.38,332.44 133.12,330.43 133.85,329.55 134.72,328.82 135.6,326.78 136.33,325.09 137.06,323.66 137.64,320.69 138.23,318.18 138.81,315.36 139.4,311.65 139.99,309.97 140.57,307.05 141.23,303.36 141.89,302.2 142.62,299.94 143.35,298.49 144.37,302.94 144.95,307.26 145.54,308.91 146.12,312.53 146.71,314.72 147.3,319.61 147.88,320.01 148.47,323.66 149.05,325.1 149.63,328.4 150.22,330.97 150.95,331.18 151.68,334.72 152.31,336.26 152.95,337.21 153.58,338.37 154.31,340.1 155.04,340.25 155.77,340.93 156.5,341.69 157.23,341.45 157.96,342.2 158.69,342.57 159.42,342.72 160.16,342.87 160.89,343.01 161.62,343.16 162.37,343.16 163.13,343.17 163.88,343.17 164.64,343.18 165.39,343.18 166.15,343.19 166.9,343.19 167.65,343.2 168.41,343.2 169.16,343.21 169.92,343.21 170.67,343.22 171.42,343.22 172.18,343.23 172.93,343.23 173.69,343.24 174.44,343.24 175.2,343.25 175.95,343.25 176.7,343.26 177.46,343.26 178.21,343.27 178.97,343.27 179.72,343.28 180.47,343.28 181.23,343.29 181.98,343.29 182.74,343.3 183.49,343.3 184.25,343.3 185.0,343.31 185.0,343.6" fill="#b8b8b8" stroke="none"/>
<polyline points="116.31,343.16 117.04,342.99 117.77,342.82 118.5,342.65 119.23,342.48 119.96,342.31 120.69,342.14 121.42,342.04 122.15,341.45 122.89,341.45 123.62,340.74 124.35,340.66 125.08,340.67 125.81,339.72 126.54,338.96 127.27,338.29 128.0,337.16 128.73,336.6 129.46,335.72 130.19,334.78 130.92,333.88 131.65,332.61 132.38,332.44 133.12,330.43 133.85,329.55 134.72,328.82 135.6,326.78 136.33,325.09 137.06,323.66 137.64,320.69 138.23,318.18 138.81,315.36 139.4,311.65 139.99,309.97 140.57,307.05 141.23,303.36 141.89,302.2 142.62,299.94 143.35,298.49 144.37,302.94 144.95,307.26 145.54,308.91 146.12,312.53 146.71,314.72 147.3,319.61 147.88,320.01 148.47,323.66 149.05,325.1 149.63,328.4 150.22,330.97 150.95,331.18 151.68,334.72 152.31,336.26 152.95,337.21 153.58,338.37 154.31,340.1 155.04,340.25 155.77,340.93 156.5,341.69 157.23,341.45 157.96,342.2 158.69,342.57 159.42,342.72 160.16,342.87 160.89,343.01 161.62,343.16 162.37,343.16 163.13,343.17 163.88,343.17 164.64,343.18 165.39,343.18 166.15,343.19 166.9,343.19 167.65,343.2 168.41,343.2 169.16,343.21 169.92,343.21 170.67,343.22 171.42,343.22 172.18,343.23 172.93,343.23 173.69,343.24 174.44,343.24 175.2,343.25 175.95,343.25 176.7,343.26 177.46,343.26 178.21,343.27 178.97,343.27 179.72,343.28 180.47,343.28 181.23,343.29 181.98,343.29 182.74,343.3 183.49,343.3 184.25,343.3 185.0,343.31" fill="none" stroke="#161616" stroke-width="1.2" stroke-linejoin="round" stroke-linecap="round"/>
<polyline points="109.73,342.87 110.46,342.14 111.19,341.69 111.92,340.6 112.65,339.62 113.38,338.96 114.12,337.43 114.85,336.02 115.51,334.15 116.16,334.35 116.82,332.85 117.48,330.95 118.16,330.47 118.84,329.04 119.52,327.67 120.15,324.67 120.79,324.83 121.42,324.1 122.05,323.18 122.69,322.1 123.32,319.36 124.0,319.58 124.69,319.12 125.37,318.85 126.1,316.03 126.83,315.65 127.41,314.71 128.0,313.91 128.58,314.64 129.17,316.91 129.9,316.92 130.63,318.79 131.5,319.36 132.38,320.95 133.11,321.08 133.85,321.12 134.58,323.44 135.31,323.58 136.04,323.16 136.77,323.89 137.5,325.06 138.23,324.08 138.96,325.26 139.59,326.65 140.23,327.61 140.86,328.13 141.59,328.73 142.32,332.17 143.06,334.25 143.79,336.28 144.52,338.0 145.25,339.97 145.93,340.55 146.61,341.15 147.29,342.14 148.13,342.36 148.97,342.57 149.81,342.79 150.65,343.01 151.4,343.02 152.14,343.02 152.89,343.03 153.64,343.04 154.38,343.04 155.13,343.05 155.88,343.06 156.62,343.06 157.37,343.07 158.12,343.08 158.86,343.08 159.61,343.09 160.36,343.09 161.1,343.1 161.85,343.11 162.6,343.11 163.34,343.12 164.09,343.13 164.84,343.13 165.58,343.14 166.33,343.15 167.08,343.15 167.82,343.16 168.57,343.17 169.32,343.17 170.07,343.18 170.81,343.19 171.56,343.19 172.31,343.2 173.05,343.21 173.8,343.21 174.55,343.22 175.29,343.23 176.04,343.23 176.79,343.24 177.53,343.24 178.28,343.25 179.03,343.26 179.77,343.26 180.52,343.27 181.27,343.28 182.01,343.28 182.76,343.29 183.51,343.3 184.25,343.3 185.0,343.31" fill="none" stroke="#161616" stroke-width="1.2" stroke-linejoin="round" stroke-linecap="round"/>
</g>
<g stroke="#222" stroke-width="0.95" fill="none">
<rect x="34.5" y="16.9" width="150.3" height="142.79999999999998" stroke-width="0.95"/>
<line x1="109.5" y1="16.9" x2="109.5" y2="159.7"/>
<line x1="34.5" y1="64.2" x2="184.8" y2="64.2"/>
<line x1="34.5" y1="111.9" x2="184.8" y2="111.9"/>
</g>
<g stroke="#222" stroke-width="0.95" fill="none">
<rect x="34.5" y="200.6" width="150.3" height="143.00000000000003" stroke-width="0.95"/>
<line x1="109.5" y1="200.6" x2="109.5" y2="343.6"/>
<line x1="34.5" y1="248.3" x2="184.8" y2="248.3"/>
<line x1="34.5" y1="296.0" x2="184.8" y2="296.0"/>
</g>
<g stroke="#161616" stroke-width="0.9">
<line x1="34.5" y1="31" x2="36.8" y2="31"/>
<line x1="109.5" y1="31" x2="111.8" y2="31"/>
<line x1="34.5" y1="47.2" x2="36.8" y2="47.2"/>
<line x1="109.5" y1="47.2" x2="111.8" y2="47.2"/>
<line x1="34.5" y1="62.8" x2="36.8" y2="62.8"/>
<line x1="109.5" y1="62.8" x2="111.8" y2="62.8"/>
<line x1="34.5" y1="80.5" x2="36.8" y2="80.5"/>
<line x1="109.5" y1="80.5" x2="111.8" y2="80.5"/>
<line x1="34.5" y1="96" x2="36.8" y2="96"/>
<line x1="109.5" y1="96" x2="111.8" y2="96"/>
<line x1="34.5" y1="110.6" x2="36.8" y2="110.6"/>
<line x1="109.5" y1="110.6" x2="111.8" y2="110.6"/>
<line x1="34.5" y1="122.4" x2="36.8" y2="122.4"/>
<line x1="109.5" y1="122.4" x2="111.8" y2="122.4"/>
<line x1="34.5" y1="134.6" x2="36.8" y2="134.6"/>
<line x1="109.5" y1="134.6" x2="111.8" y2="134.6"/>
<line x1="34.5" y1="147.3" x2="36.8" y2="147.3"/>
<line x1="109.5" y1="147.3" x2="111.8" y2="147.3"/>
<line x1="34.5" y1="158.2" x2="36.8" y2="158.2"/>
<line x1="109.5" y1="158.2" x2="111.8" y2="158.2"/>
<line x1="34.5" y1="206.5" x2="36.8" y2="206.5"/>
<line x1="109.5" y1="206.5" x2="111.8" y2="206.5"/>
<line x1="34.5" y1="219.8" x2="36.8" y2="219.8"/>
<line x1="109.5" y1="219.8" x2="111.8" y2="219.8"/>
<line x1="34.5" y1="234" x2="36.8" y2="234"/>
<line x1="109.5" y1="234" x2="111.8" y2="234"/>
<line x1="34.5" y1="246.4" x2="36.8" y2="246.4"/>
<line x1="109.5" y1="246.4" x2="111.8" y2="246.4"/>
<line x1="34.5" y1="253.4" x2="36.8" y2="253.4"/>
<line x1="109.5" y1="253.4" x2="111.8" y2="253.4"/>
<line x1="34.5" y1="264.4" x2="36.8" y2="264.4"/>
<line x1="109.5" y1="264.4" x2="111.8" y2="264.4"/>
<line x1="34.5" y1="275.2" x2="36.8" y2="275.2"/>
<line x1="109.5" y1="275.2" x2="111.8" y2="275.2"/>
<line x1="34.5" y1="285.3" x2="36.8" y2="285.3"/>
<line x1="109.5" y1="285.3" x2="111.8" y2="285.3"/>
<line x1="34.5" y1="294.4" x2="36.8" y2="294.4"/>
<line x1="109.5" y1="294.4" x2="111.8" y2="294.4"/>
<line x1="34.5" y1="304.7" x2="36.8" y2="304.7"/>
<line x1="109.5" y1="304.7" x2="111.8" y2="304.7"/>
<line x1="34.5" y1="318.3" x2="36.8" y2="318.3"/>
<line x1="109.5" y1="318.3" x2="111.8" y2="318.3"/>
<line x1="34.5" y1="330.9" x2="36.8" y2="330.9"/>
<line x1="109.5" y1="330.9" x2="111.8" y2="330.9"/>
<line x1="34.5" y1="342.2" x2="36.8" y2="342.2"/>
<line x1="109.5" y1="342.2" x2="111.8" y2="342.2"/>
</g>
<g font-size="3.6" class="b" text-anchor="end" fill="#333">
<text x="33" y="32.2" style="font-weight:bold;fill:#333;stroke:none">1000</text>
<text x="33" y="48.400000000000006" style="font-weight:bold;fill:#333;stroke:none">500</text>
<text x="33" y="64.0" style="font-weight:bold;fill:#333;stroke:none">0</text>
<text x="33" y="81.7" style="font-weight:bold;fill:#333;stroke:none">1000</text>
<text x="33" y="97.2" style="font-weight:bold;fill:#333;stroke:none">500</text>
<text x="33" y="111.8" style="font-weight:bold;fill:#333;stroke:none">0</text>
<text x="33" y="123.60000000000001" style="font-weight:bold;fill:#333;stroke:none">1500</text>
<text x="33" y="135.79999999999998" style="font-weight:bold;fill:#333;stroke:none">1000</text>
<text x="33" y="148.5" style="font-weight:bold;fill:#333;stroke:none">500</text>
<text x="33" y="159.39999999999998" style="font-weight:bold;fill:#333;stroke:none">0</text>
<text x="33" y="207.7" style="font-weight:bold;fill:#333;stroke:none">3000</text>
<text x="33" y="221.0" style="font-weight:bold;fill:#333;stroke:none">2000</text>
<text x="33" y="235.2" style="font-weight:bold;fill:#333;stroke:none">1000</text>
<text x="33" y="247.6" style="font-weight:bold;fill:#333;stroke:none">0</text>
<text x="33" y="254.6" style="font-weight:bold;fill:#333;stroke:none">2000</text>
<text x="33" y="265.59999999999997" style="font-weight:bold;fill:#333;stroke:none">1500</text>
<text x="33" y="276.4" style="font-weight:bold;fill:#333;stroke:none">1000</text>
<text x="33" y="286.5" style="font-weight:bold;fill:#333;stroke:none">500</text>
<text x="33" y="295.59999999999997" style="font-weight:bold;fill:#333;stroke:none">0</text>
<text x="33" y="305.9" style="font-weight:bold;fill:#333;stroke:none">1500</text>
<text x="33" y="319.5" style="font-weight:bold;fill:#333;stroke:none">1000</text>
<text x="33" y="332.09999999999997" style="font-weight:bold;fill:#333;stroke:none">500</text>
<text x="33" y="343.4" style="font-weight:bold;fill:#333;stroke:none">0</text>
</g>
<text x="35" y="163.5" font-size="3.4" text-anchor="middle" style="font-weight:bold;fill:#3a3a3a;stroke:none">10<tspan dy="-1.3" font-size="2.6">0</tspan></text>
<text x="53.3" y="163.5" font-size="3.4" text-anchor="middle" style="font-weight:bold;fill:#3a3a3a;stroke:none">10<tspan dy="-1.3" font-size="2.6">0</tspan></text>
<text x="71.7" y="163.5" font-size="3.4" text-anchor="middle" style="font-weight:bold;fill:#3a3a3a;stroke:none">10<tspan dy="-1.3" font-size="2.6">0</tspan></text>
<text x="90.1" y="163.5" font-size="3.4" text-anchor="middle" style="font-weight:bold;fill:#3a3a3a;stroke:none">10<tspan dy="-1.3" font-size="2.6">0</tspan></text>
<text x="106.0" y="163.5" font-size="3.4" text-anchor="middle" style="font-weight:bold;fill:#3a3a3a;stroke:none">10<tspan dy="-1.3" font-size="2.6">0</tspan></text>
<text x="113.2" y="163.5" font-size="3.4" text-anchor="middle" style="font-weight:bold;fill:#3a3a3a;stroke:none">10<tspan dy="-1.3" font-size="2.6">0</tspan></text>
<text x="128.8" y="163.5" font-size="3.4" text-anchor="middle" style="font-weight:bold;fill:#3a3a3a;stroke:none">10<tspan dy="-1.3" font-size="2.6">0</tspan></text>
<text x="147.2" y="163.5" font-size="3.4" text-anchor="middle" style="font-weight:bold;fill:#3a3a3a;stroke:none">10<tspan dy="-1.3" font-size="2.6">0</tspan></text>
<text x="165.6" y="163.5" font-size="3.4" text-anchor="middle" style="font-weight:bold;fill:#3a3a3a;stroke:none">10<tspan dy="-1.3" font-size="2.6">0</tspan></text>
<text x="183.6" y="163.5" font-size="3.4" text-anchor="middle" style="font-weight:bold;fill:#3a3a3a;stroke:none">10<tspan dy="-1.3" font-size="2.6">0</tspan></text>
<text x="35" y="347.8" font-size="3.4" text-anchor="middle" style="font-weight:bold;fill:#3a3a3a;stroke:none">10<tspan dy="-1.3" font-size="2.6">0</tspan></text>
<text x="53.3" y="347.8" font-size="3.4" text-anchor="middle" style="font-weight:bold;fill:#3a3a3a;stroke:none">10<tspan dy="-1.3" font-size="2.6">0</tspan></text>
<text x="71.7" y="347.8" font-size="3.4" text-anchor="middle" style="font-weight:bold;fill:#3a3a3a;stroke:none">10<tspan dy="-1.3" font-size="2.6">0</tspan></text>
<text x="90.1" y="347.8" font-size="3.4" text-anchor="middle" style="font-weight:bold;fill:#3a3a3a;stroke:none">10<tspan dy="-1.3" font-size="2.6">0</tspan></text>
<text x="106.0" y="347.8" font-size="3.4" text-anchor="middle" style="font-weight:bold;fill:#3a3a3a;stroke:none">10<tspan dy="-1.3" font-size="2.6">0</tspan></text>
<text x="113.2" y="347.8" font-size="3.4" text-anchor="middle" style="font-weight:bold;fill:#3a3a3a;stroke:none">10<tspan dy="-1.3" font-size="2.6">0</tspan></text>
<text x="128.8" y="347.8" font-size="3.4" text-anchor="middle" style="font-weight:bold;fill:#3a3a3a;stroke:none">10<tspan dy="-1.3" font-size="2.6">0</tspan></text>
<text x="147.2" y="347.8" font-size="3.4" text-anchor="middle" style="font-weight:bold;fill:#3a3a3a;stroke:none">10<tspan dy="-1.3" font-size="2.6">0</tspan></text>
<text x="165.6" y="347.8" font-size="3.4" text-anchor="middle" style="font-weight:bold;fill:#3a3a3a;stroke:none">10<tspan dy="-1.3" font-size="2.6">0</tspan></text>
<text x="183.6" y="347.8" font-size="3.4" text-anchor="middle" style="font-weight:bold;fill:#3a3a3a;stroke:none">10<tspan dy="-1.3" font-size="2.6">0</tspan></text>
<g stroke="#161616" stroke-width="0.8">
<line x1="53.3" y1="159.7" x2="53.3" y2="157.89999999999998"/>
<line x1="71.7" y1="159.7" x2="71.7" y2="157.89999999999998"/>
<line x1="90.1" y1="159.7" x2="90.1" y2="157.89999999999998"/>
<line x1="128.8" y1="159.7" x2="128.8" y2="157.89999999999998"/>
<line x1="147.2" y1="159.7" x2="147.2" y2="157.89999999999998"/>
<line x1="165.6" y1="159.7" x2="165.6" y2="157.89999999999998"/>
<line x1="53.3" y1="343.6" x2="53.3" y2="341.8"/>
<line x1="71.7" y1="343.6" x2="71.7" y2="341.8"/>
<line x1="90.1" y1="343.6" x2="90.1" y2="341.8"/>
<line x1="128.8" y1="343.6" x2="128.8" y2="341.8"/>
<line x1="147.2" y1="343.6" x2="147.2" y2="341.8"/>
<line x1="165.6" y1="343.6" x2="165.6" y2="341.8"/>
</g>
<text x="108.0" y="26.3" font-size="11.4" text-anchor="end" style="stroke-width:0.36px" transform="translate(108.0,0) scale(1.03,1) translate(-108.0,0)">8</text>
<text x="181.8" y="26.3" font-size="11.4" text-anchor="end" style="stroke-width:0.36px" transform="translate(181.8,0) scale(1.03,1) translate(-181.8,0)">8</text>
<text x="108.0" y="73.9" font-size="11.4" text-anchor="end" style="stroke-width:0.36px" transform="translate(108.0,0) scale(1.03,1) translate(-108.0,0)">9</text>
<text x="181.8" y="73.9" font-size="11.4" text-anchor="end" style="stroke-width:0.36px" transform="translate(181.8,0) scale(1.03,1) translate(-181.8,0)">9</text>
<text x="108.0" y="121.6" font-size="11.4" text-anchor="end" style="stroke-width:0.36px" transform="translate(108.0,0) scale(1.03,1) translate(-108.0,0)">10</text>
<text x="181.8" y="121.6" font-size="11.4" text-anchor="end" style="stroke-width:0.36px" transform="translate(181.8,0) scale(1.03,1) translate(-181.8,0)">10</text>
<text x="107.6" y="257.9" font-size="11.4" text-anchor="end" style="stroke-width:0.36px" transform="translate(107.6,0) scale(1.03,1) translate(-107.6,0)">11</text>
<text x="181.4" y="257.9" font-size="11.4" text-anchor="end" style="stroke-width:0.36px" transform="translate(181.4,0) scale(1.03,1) translate(-181.4,0)">11</text>
<text x="107.6" y="305.6" font-size="11.4" text-anchor="end" style="stroke-width:0.36px" transform="translate(107.6,0) scale(1.03,1) translate(-107.6,0)">12</text>
<text x="181.4" y="305.6" font-size="11.4" text-anchor="end" style="stroke-width:0.36px" transform="translate(181.4,0) scale(1.03,1) translate(-181.4,0)">12</text>
<text transform="translate(101.6,210.2) scale(0.92,1)" font-size="11.6" text-anchor="end" style="stroke-width:0.3px">8</text>
<text transform="translate(102.1,212.5) scale(0.9,1)" font-size="7.1" class="b" style="stroke-width:0.15px">A</text>
<text transform="translate(177.3,210.2) scale(0.92,1)" font-size="11.6" text-anchor="end" style="stroke-width:0.3px">8</text>
<text transform="translate(177.8,212.5) scale(0.9,1)" font-size="7.1" class="b" style="stroke-width:0.15px">A</text>
<text transform="translate(71.9,11.9) scale(1.0194,1)" font-size="14.0" text-anchor="middle">BAFF</text>
<text transform="translate(146.9,11.9) scale(1.0136,1)" font-size="14.0" text-anchor="middle">APRIL</text>
<text transform="translate(71.9,195.9) scale(1.0194,1)" font-size="14.0" text-anchor="middle">BAFF</text>
<text transform="translate(147.1,196.2) scale(1.0235,1)" font-size="14.0" text-anchor="middle">APRIL</text>
<text transform="translate(110.6,173.0) scale(0.9750,1)" font-size="10.2" text-anchor="middle" class="b">Counts</text>
<text transform="translate(111.6,358.7) scale(0.9879,1)" font-size="10.2" text-anchor="middle" class="b">Counts</text>
<text transform="translate(12.7,88.6) rotate(-90) scale(1.0036,1.12)" font-size="14.2" text-anchor="middle" style="stroke-width:0.5px">Normal B</text>
<text transform="translate(12.7,271.2) rotate(-90) scale(1.0141,1.12)" font-size="14.2" text-anchor="middle" style="stroke-width:0.5px">B-CLL</text>
<text transform="translate(23.5,90.7) rotate(-90) scale(1.0756,1.1)" font-size="9.6" text-anchor="middle" class="b">Fluorescence intensity</text>
<text transform="translate(23.2,268.1) rotate(-90) scale(1.0800,1.1)" font-size="9.6" text-anchor="middle" class="b">Fluorescence intensity</text>
<text class="sans" transform="translate(1.0,18.9) scale(1.08,1)" font-size="23.6">A</text>
<text class="sans" transform="translate(229.0,18.8) scale(1.04,1)" font-size="23.8">B</text>
<g stroke="#161616" fill="none">
<rect x="269.7" y="18.0" width="248.3" height="326.3" stroke-width="1.5"/>
<line x1="392.8" y1="18.0" x2="392.8" y2="344.3" stroke-width="1.4"/>
<line x1="269.7" y1="303.9" x2="274.2" y2="303.9" stroke-width="1.2"/>
<line x1="269.7" y1="262.4" x2="274.2" y2="262.4" stroke-width="1.2"/>
<line x1="269.7" y1="221.9" x2="274.2" y2="221.9" stroke-width="1.2"/>
<line x1="269.7" y1="181.1" x2="274.2" y2="181.1" stroke-width="1.2"/>
<line x1="269.7" y1="140.4" x2="274.2" y2="140.4" stroke-width="1.2"/>
<line x1="269.7" y1="99.6" x2="274.2" y2="99.6" stroke-width="1.2"/>
<line x1="269.7" y1="58.8" x2="274.2" y2="58.8" stroke-width="1.2"/>
</g>
<text x="265.6" y="349.0" font-size="14" text-anchor="end">0</text>
<text x="265.6" y="308.59999999999997" font-size="14" text-anchor="end">10</text>
<text x="265.6" y="267.09999999999997" font-size="14" text-anchor="end">20</text>
<text x="265.6" y="226.6" font-size="14" text-anchor="end">30</text>
<text x="265.6" y="185.79999999999998" font-size="14" text-anchor="end">40</text>
<text x="265.6" y="145.1" font-size="14" text-anchor="end">50</text>
<text x="265.6" y="104.3" font-size="14" text-anchor="end">60</text>
<text x="265.6" y="63.5" font-size="14" text-anchor="end">70</text>
<text x="265.6" y="22.7" font-size="14" text-anchor="end">80</text>
<text transform="translate(332.6,11.9) scale(0.9794,1)" font-size="14" text-anchor="middle">BAFF</text>
<text transform="translate(456.1,12.6) scale(0.9790,1)" font-size="14" text-anchor="middle">APRIL</text>
<text transform="translate(304.0,363.6) scale(1.0251,1)" font-size="14" text-anchor="middle">Normal B</text>
<text transform="translate(361.2,363.6) scale(0.9890,1)" font-size="14" text-anchor="middle">B-CLL</text>
<text transform="translate(427.6,363.6) scale(1.0179,1)" font-size="14" text-anchor="middle">Normal B</text>
<text transform="translate(491.6,363.6) scale(1.0286,1)" font-size="14" text-anchor="middle">B-CLL</text>
<text transform="translate(242.6,170.3) rotate(-90) scale(1.2414,1.0)" font-size="11.7" text-anchor="middle" class="b">% positive cells (Kolmogorov-Smirnov test)</text>
<rect x="276.7" y="22.2" width="59.8" height="50.7" fill="#fff" stroke="#161616" stroke-width="1.1"/>
<text x="298.3" y="31.3" font-size="10.5">A stage</text>
<text x="298.3" y="44.3" font-size="10.5">B stage</text>
<text x="298.3" y="57.3" font-size="10.5">C stage</text>
<text x="298.3" y="70.6" font-size="10.5">Mean</text>
<line x1="279.6" y1="68.3" x2="293.9" y2="68.3" stroke="#161616" stroke-width="1.3"/>
<polygon points="286.7,25.3 289.59999999999997,30.400000000000002 283.8,30.400000000000002" fill="#161616"/>
<rect x="284.5" y="38.8" width="4.4" height="4.4" fill="#161616"/>
<path d="M284.8,52.1 L288.59999999999997,55.9 M288.59999999999997,52.1 L284.8,55.9" stroke="#161616" stroke-width="1.55" fill="none"/>
<circle cx="303.1" cy="285.9" r="2.35" fill="#161616"/>
<circle cx="298.5" cy="298.3" r="2.35" fill="#161616"/>
<circle cx="307.7" cy="298.3" r="2.35" fill="#161616"/>
<circle cx="303.1" cy="310.2" r="2.35" fill="#161616"/>
<circle cx="299.3" cy="322.2" r="2.35" fill="#161616"/>
<circle cx="306.9" cy="326.6" r="2.35" fill="#161616"/>
<line x1="286.8" y1="308.4" x2="321.8" y2="308.4" stroke="#161616" stroke-width="2.0"/>
<path d="M362.1,50.300000000000004 L365.9,54.1 M365.9,50.300000000000004 L362.1,54.1" stroke="#161616" stroke-width="1.55" fill="none"/>
<polygon points="361.2,135.6 364.09999999999997,140.70000000000002 358.3,140.70000000000002" fill="#161616"/>
<polygon points="368.8,131.5 371.7,136.60000000000002 365.90000000000003,136.60000000000002" fill="#161616"/>
<polygon points="361.0,155.6 363.9,160.70000000000002 358.1,160.70000000000002" fill="#161616"/>
<polygon points="369.0,159.6 371.9,164.70000000000002 366.1,164.70000000000002" fill="#161616"/>
<polygon points="364.4,205.7 367.29999999999995,210.8 361.5,210.8" fill="#161616"/>
<polygon points="364.4,237.7 367.29999999999995,242.8 361.5,242.8" fill="#161616"/>
<polygon points="370.7,249.89999999999998 373.59999999999997,255.0 367.8,255.0" fill="#161616"/>
<polygon points="357.2,254.39999999999998 360.09999999999997,259.5 354.3,259.5" fill="#161616"/>
<polygon points="364.4,254.39999999999998 367.29999999999995,259.5 361.5,259.5" fill="#161616"/>
<polygon points="364.4,282.7 367.29999999999995,287.8 361.5,287.8" fill="#161616"/>
<path d="M366.90000000000003,140.9 L370.7,144.70000000000002 M370.7,140.9 L366.90000000000003,144.70000000000002" stroke="#161616" stroke-width="1.55" fill="none"/>
<rect x="368.3" y="258.5" width="4.4" height="4.4" fill="#161616"/>
<rect x="362.2" y="266.90000000000003" width="4.4" height="4.4" fill="#161616"/>
<line x1="346.8" y1="205.3" x2="381.6" y2="205.3" stroke="#161616" stroke-width="2.5"/>
<circle cx="428.2" cy="257.2" r="2.35" fill="#161616"/>
<circle cx="428.2" cy="273.8" r="2.35" fill="#161616"/>
<circle cx="428.2" cy="301.4" r="2.35" fill="#161616"/>
<circle cx="428.2" cy="318.0" r="2.35" fill="#161616"/>
<circle cx="428.2" cy="326.0" r="2.35" fill="#161616"/>
<circle cx="428.2" cy="334.7" r="2.35" fill="#161616"/>
<line x1="411.2" y1="303.1" x2="445.9" y2="303.1" stroke="#161616" stroke-width="1.6"/>
<polygon points="485.8,123.8 488.7,128.9 482.90000000000003,128.9" fill="#161616"/>
<polygon points="485.8,143.5 488.7,148.60000000000002 482.90000000000003,148.60000000000002" fill="#161616"/>
<polygon points="479.6,151.89999999999998 482.5,157.0 476.70000000000005,157.0" fill="#161616"/>
<polygon points="489.8,156.29999999999998 492.7,161.4 486.90000000000003,161.4" fill="#161616"/>
<polygon points="485.8,164.0 488.7,169.10000000000002 482.90000000000003,169.10000000000002" fill="#161616"/>
<polygon points="485.8,184.79999999999998 488.7,189.9 482.90000000000003,189.9" fill="#161616"/>
<polygon points="479.6,192.79999999999998 482.5,197.9 476.70000000000005,197.9" fill="#161616"/>
<polygon points="485.8,213.5 488.7,218.60000000000002 482.90000000000003,218.60000000000002" fill="#161616"/>
<polygon points="485.8,241.89999999999998 488.7,247.0 482.90000000000003,247.0" fill="#161616"/>
<polygon points="485.8,250.29999999999998 488.7,255.4 482.90000000000003,255.4" fill="#161616"/>
<polygon points="485.8,262.59999999999997 488.7,267.7 482.90000000000003,267.7" fill="#161616"/>
<path d="M483.90000000000003,136.6 L487.7,140.4 M487.7,136.6 L483.90000000000003,140.4" stroke="#161616" stroke-width="1.55" fill="none"/>
<path d="M489.8,194.5 L493.59999999999997,198.3 M493.59999999999997,194.5 L489.8,198.3" stroke="#161616" stroke-width="1.55" fill="none"/>
<rect x="483.6" y="226.10000000000002" width="4.4" height="4.4" fill="#161616"/>
<rect x="483.6" y="287.6" width="4.4" height="4.4" fill="#161616"/>
<line x1="469.5" y1="199.6" x2="504.5" y2="199.6" stroke="#161616" stroke-width="1.6"/>
</g>
</svg>
</body></html>
